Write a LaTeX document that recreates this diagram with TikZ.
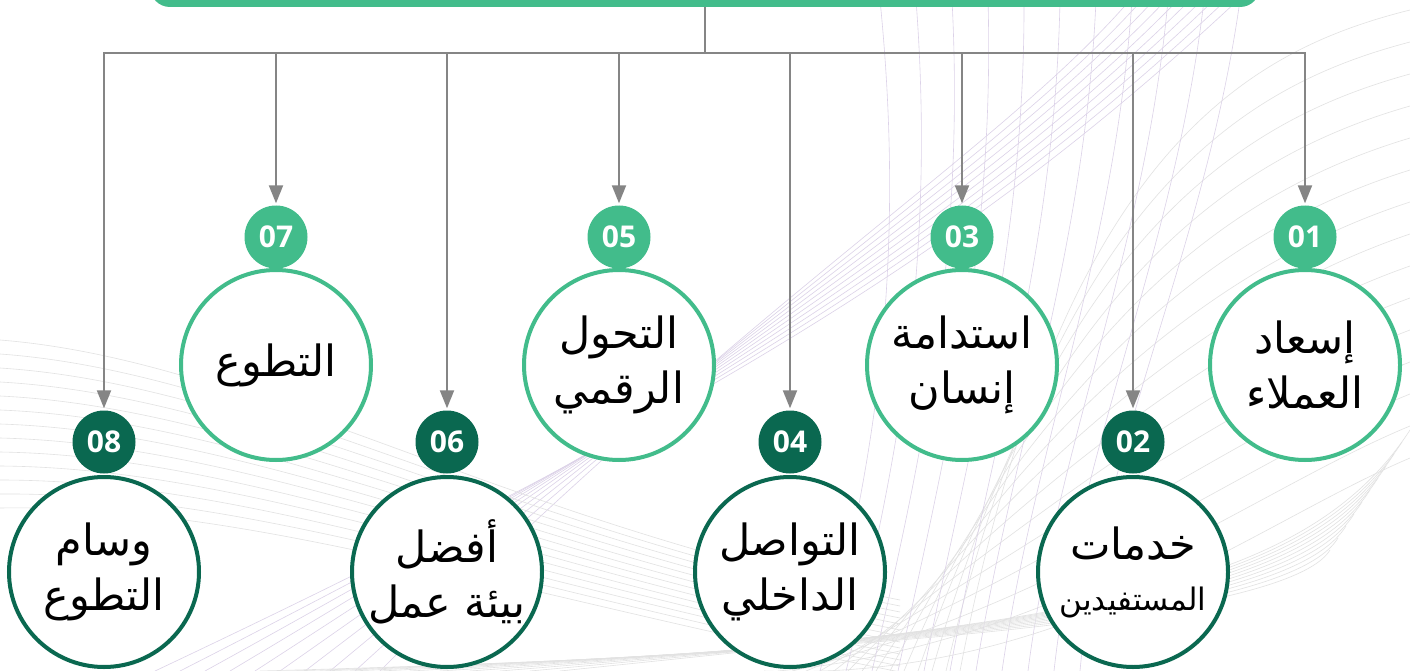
\documentclass[tikz,border=0pt]{standalone}
\usepackage{fontspec}
\TeXXeTstate=1
\newfontfamily\arabicfont[Script=Arabic]{DejaVu Sans}
\newfontfamily\numfont{Open Sans}
\usetikzlibrary{arrows.meta}
\definecolor{lgreen}{HTML}{42BC8B}
\definecolor{dgreen}{HTML}{0A6850}
\definecolor{arrowgray}{HTML}{858585}
\definecolor{lav}{HTML}{DCD2E8}
\definecolor{bggray}{HTML}{E2E2E2}
\newcommand\arline[1]{\beginR #1\endR}
\begin{document}
\begin{tikzpicture}[x=1pt,y=-1pt,
  conn/.style={draw=arrowgray,line width=2pt},
  arr/.style={conn,-{Triangle[width=14pt,length=18pt]},shorten >=2pt},
  bigL/.style={circle,draw=lgreen,line width=4pt,fill=white,minimum size=190pt,inner sep=0pt,align=center,
    font=\arabicfont\fontsize{43}{55}\selectfont},
  bigD/.style={bigL,draw=dgreen},
  numL/.style={circle,fill=lgreen,minimum size=63pt,inner sep=0pt,text=white,
    font=\numfont\bfseries\fontsize{30}{30}\selectfont},
  numD/.style={numL,fill=dgreen},
  bgl/.style={draw=lav,line width=0.6pt},
  bgg/.style={draw=bggray,line width=0.6pt}]
\useasboundingbox (0,0) rectangle (1410,671);
\fill[white] (0,0) rectangle (1410,671);
% background decoration
\foreach \i in {0,...,14}
  \draw[bgg] (1410,10+\i*32) .. controls (1250,50+\i*34) and (1060,150+\i*38) .. (960-\i*14,671);
\foreach \i in {0,...,10}
  \draw[bgl] (880+\i*36,0) .. controls (905+\i*30,250) and (880+\i*22,450) .. (820+\i*26,671);
\foreach \i in {0,...,9}
  \draw[bgl] (1130+\i*12,0) .. controls (1000,150+\i*8) and (750,300+\i*10) .. (380-\i*25,671);
\foreach \i in {0,...,12}
  \draw[bgg] (0,340+\i*14) .. controls (250,360+\i*12) and (500,520+\i*6) .. (900,600+\i*6);
\foreach \i in {0,...,10}
  \draw[bgg] (1410-\i*8,430+\i*12) .. controls (1300,600) and (1050,620+\i*3) .. (560-\i*30,671);
% top bar
\node[fill=lgreen,rounded corners=20pt,minimum width=1110pt,minimum height=60pt,inner sep=0pt] (bar) at (705,-23) {};
% big circles
\node[bigL] (c1) at (1305,365) {\arline{إسعاد}\\\arline{العملاء}};
\node[bigD] (c2) at (1133,572) {\arline{خدمات}\\[-4pt]{\fontsize{31}{36}\selectfont\arline{المستفيدين}}};
\node[bigL] (c3) at (962,365) {\arline{استدامة}\\\arline{إنسان}};
\node[bigD] (c4) at (790,572) {\arline{التواصل}\\\arline{الداخلي}};
\node[bigL] (c5) at (619,365) {\arline{التحول}\\\arline{الرقمي}};
\node[bigD] (c6) at (447,572) {\arline{أفضل}\\\arline{بيئة عمل}};
\node[bigL] (c7) at (276,365) {\arline{التطوع}};
\node[bigD] (c8) at (104,572) {\arline{وسام}\\\arline{التطوع}};
% number badges
\node[numL] (n1) at (1305,237) {01};
\node[numD] (n2) at (1133,442) {02};
\node[numL] (n3) at (962,237) {03};
\node[numD] (n4) at (790,442) {04};
\node[numL] (n5) at (619,237) {05};
\node[numD] (n6) at (447,442) {06};
\node[numL] (n7) at (276,237) {07};
\node[numD] (n8) at (104,442) {08};
% bus
\coordinate (hub) at (705,53);
\foreach \k in {1,...,8} \coordinate (b\k) at (n\k.north |- hub);
\draw[conn] (bar.south) -- (hub);
\draw[conn,line cap=rect] (b8) -- (b1);
\foreach \k in {1,...,8} \draw[arr] (b\k) -- (n\k);
\end{tikzpicture}
\end{document}
